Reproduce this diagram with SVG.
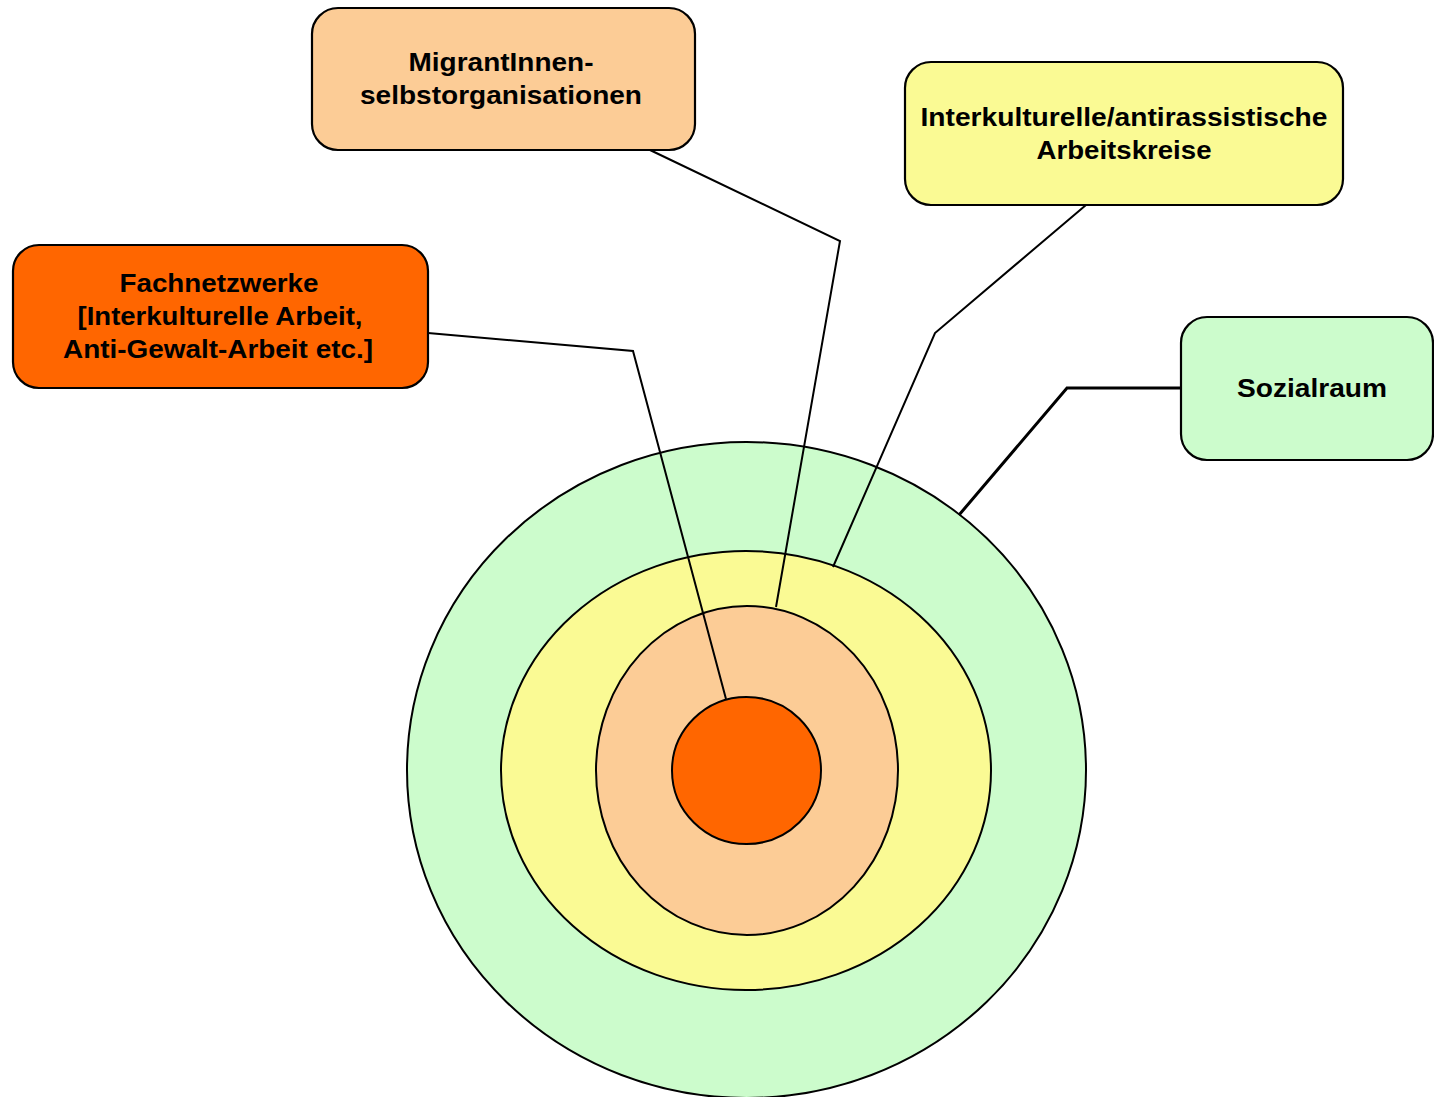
<svg xmlns="http://www.w3.org/2000/svg" width="1434" height="1097" viewBox="0 0 1434 1097">
  <style>
    .ring { stroke: #000; stroke-width: 2; }
    .box { stroke: #000; stroke-width: 2.2; }
    .label { font-family: "Liberation Sans", Arial, sans-serif; font-weight: bold; font-size: 25px; fill: #000; text-anchor: middle; }
    .link { fill: none; stroke: #000; stroke-width: 2; stroke-linejoin: miter; }
    .link.thick { stroke-width: 3; }
  </style>

  <!-- concentric rings -->
  <g id="rings">
    <ellipse id="ring-sozialraum" class="ring" cx="746.5" cy="770" rx="339.5" ry="328" fill="#CCFCCC"/>
    <ellipse id="ring-arbeitskreise" class="ring" cx="746" cy="770.5" rx="245" ry="219.5" fill="#FAFA94"/>
    <ellipse id="ring-migrantinnen" class="ring" cx="747" cy="770.5" rx="151" ry="164.5" fill="#FCCC96"/>
    <ellipse id="ring-fachnetzwerke" class="ring" cx="746.5" cy="770.5" rx="74.5" ry="73.5" fill="#FF6600"/>
  </g>

  <!-- leader lines from labels to rings -->
  <g id="connectors">
    <polyline class="link" points="428,333 633,351 726,699"/>
    <polyline class="link" points="650,150 840,241 776,607"/>
    <polyline class="link" points="1086,205 935,333 833,567"/>
    <polyline class="link thick" points="1181,388 1067,388 959,515"/>
  </g>

  <g id="node-migrantinnen">
    <rect class="box" x="312" y="8" width="383" height="142" rx="26" ry="26" fill="#FCCC96"/>
    <text class="label" x="501" y="71" textLength="185" lengthAdjust="spacingAndGlyphs">MigrantInnen-</text>
    <text class="label" x="501" y="104" textLength="282" lengthAdjust="spacingAndGlyphs">selbstorganisationen</text>
  </g>

  <g id="node-arbeitskreise">
    <rect class="box" x="905" y="62" width="438" height="143" rx="26" ry="26" fill="#FAFA94"/>
    <text class="label" x="1124" y="126" textLength="407" lengthAdjust="spacingAndGlyphs">Interkulturelle/antirassistische</text>
    <text class="label" x="1124" y="159" textLength="175" lengthAdjust="spacingAndGlyphs">Arbeitskreise</text>
  </g>

  <g id="node-fachnetzwerke">
    <rect class="box" x="13" y="245" width="415" height="143" rx="26" ry="26" fill="#FF6600"/>
    <text class="label" x="219" y="292" textLength="199" lengthAdjust="spacingAndGlyphs">Fachnetzwerke</text>
    <text class="label" x="220" y="325" textLength="285" lengthAdjust="spacingAndGlyphs">[Interkulturelle Arbeit,</text>
    <text class="label" x="218" y="358" textLength="310" lengthAdjust="spacingAndGlyphs">Anti-Gewalt-Arbeit etc.]</text>
  </g>

  <g id="node-sozialraum">
    <rect class="box" x="1181" y="317" width="252" height="143" rx="26" ry="26" fill="#CCFCCC"/>
    <text class="label" x="1312" y="397" textLength="150" lengthAdjust="spacingAndGlyphs">Sozialraum</text>
  </g>
</svg>
